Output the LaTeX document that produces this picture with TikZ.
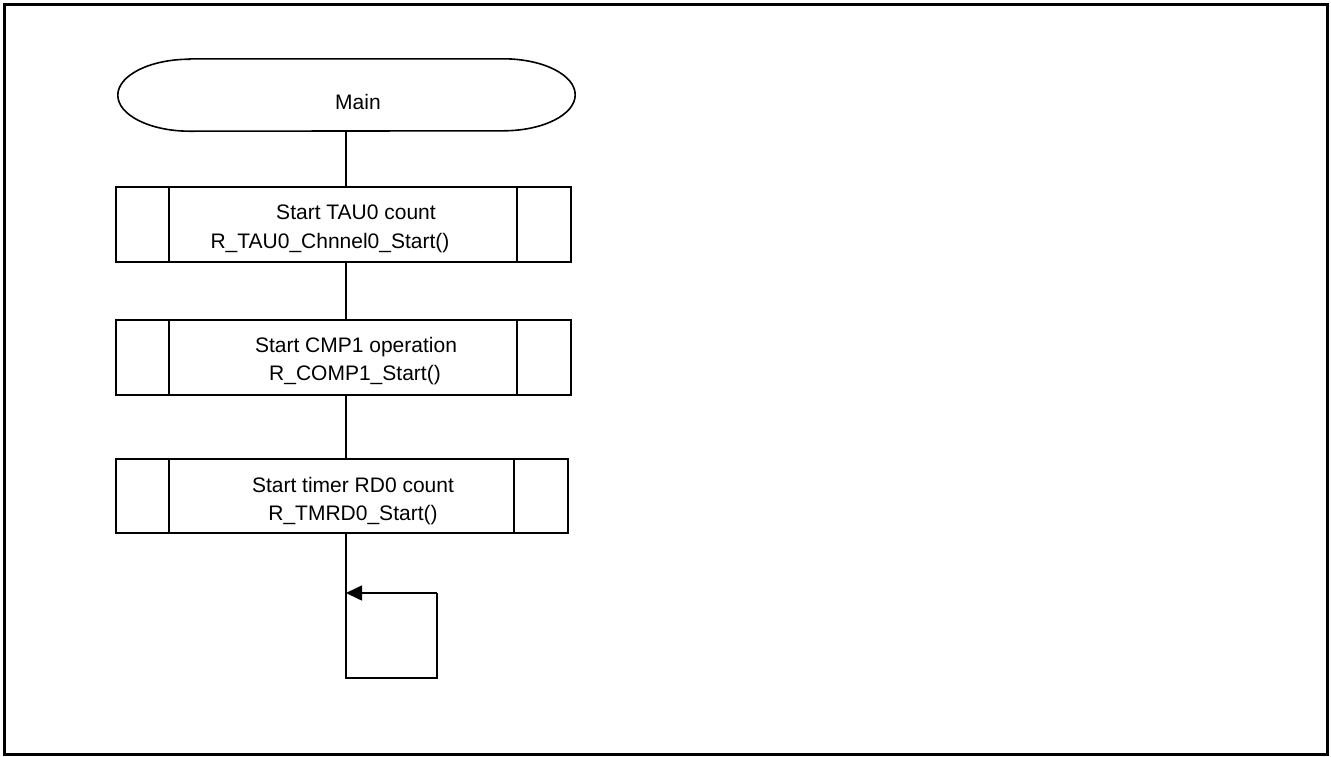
\documentclass[tikz,border=0pt]{standalone}
\usepackage{fontspec}
\setmainfont{Liberation Sans}
\usetikzlibrary{arrows.meta}
\begin{document}
\begin{tikzpicture}[x=1pt,y=1pt,
  line/.style={line width=1.6pt},
  frame/.style={line width=2.6pt},
  procbox/.style={draw, line width=1.6pt, rectangle, inner sep=0pt},
  lbl/.style={anchor=base, inner sep=0pt, font=\fontsize{21}{25}\selectfont},
  ghost/.style={rectangle, inner sep=0pt}
]
\useasboundingbox (0,0) rectangle (1331,-756);
\draw[frame] (4.5,-4.5) rectangle (1327.5,-754.5);

% terminator
\node[ghost, minimum width=457pt, minimum height=72pt] (main) at (346.5,-95) {};
\draw[line] ([xshift=72pt]main.north west) -- ([xshift=-72pt]main.north east)
  arc[start angle=90, end angle=-90, x radius=72pt, y radius=36pt]
  -- ([xshift=72pt]main.south west)
  arc[start angle=270, end angle=90, x radius=72pt, y radius=36pt] -- cycle;
\node[lbl] (tmain) at (358,-109) {Main};

% process boxes
\node[procbox, minimum width=455pt, minimum height=75pt] (b1) at (343.5,-224.5) {};
\node[procbox, minimum width=455pt, minimum height=75pt] (b2) at (343.5,-357.5) {};
\node[procbox, minimum width=452pt, minimum height=74pt] (b3) at (342,-496) {};
\foreach \b in {b1,b2,b3}{
  \draw[line] ([xshift=54pt]\b.north west) -- ([xshift=54pt]\b.south west);
  \draw[line] ([xshift=-55pt]\b.north east) -- ([xshift=-55pt]\b.south east);
}
\node[lbl] (t1a) at (356,-219) {Start TAU0 count};
\node[lbl] (t1b) at (330,-248) {R\_TAU0\_Chnnel0\_Start()};
\node[lbl] (t2a) at (356,-352) {Start CMP1 operation};
\node[lbl] (t2b) at (355,-380) {R\_COMP1\_Start()};
\node[lbl] (t3a) at (353,-492) {Start timer RD0 count};
\node[lbl] (t3b) at (353,-520) {R\_TMRD0\_Start()};

% connectors
\coordinate (spine) at (346,0);
\draw[line] (main.south -| spine) -- (b1.north -| spine);
\draw[line] (b1.south -| spine) -- (b2.north -| spine);
\draw[line] (b2.south -| spine) -- (b3.north -| spine);

% endless loop
\coordinate (lbot) at (346,-678);
\coordinate (lbr) at (437,-678);
\coordinate (ltr) at (437,-593);
\coordinate (larr) at (346,-593);
\draw[line] (b3.south -| spine) -- (lbot) -- (lbr) -- (ltr);
\draw[line, -{Triangle[length=16pt,width=15pt]}] (ltr) -- (larr);
\end{tikzpicture}
\end{document}
